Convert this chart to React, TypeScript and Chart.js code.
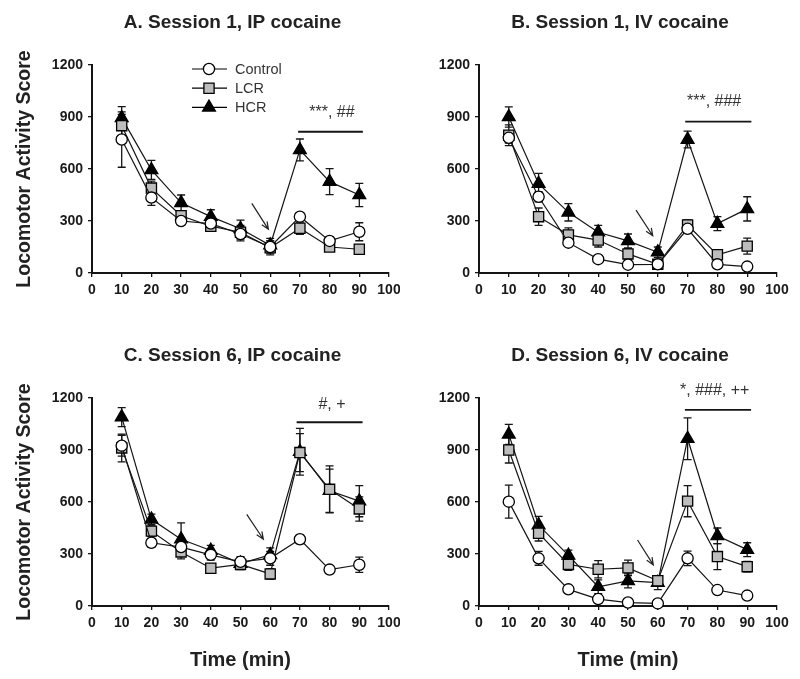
import React, { useEffect, useRef } from 'react';
import { Chart, registerables } from 'chart.js';

Chart.register(...registerables);

const FONT = '"Liberation Sans", Arial, Helvetica, sans-serif';

// ---------- shared axes ----------
const times = [10, 20, 30, 40, 50, 60, 70, 80, 90];
const seriesNames = ['Control', 'LCR', 'HCR'];
const xMin = 0;
const xMax = 100;
const xStep = 10;
const yMin = 0;
const yMax = 1200;
const yStep = 300;
const yAxisTitle = 'Locomotor Activity Score';
const xAxisTitle = 'Time (min)';

// ---------- Panel A ----------
const aTitle = 'A. Session 1, IP cocaine';
const aControl = [770, 435, 300, 285, 225, 150, 325, 185, 238];
const aControlErr = [160, 45, 20, 25, 40, 35, 20, 25, 52];
const aLCR = [850, 490, 330, 270, 235, 145, 258, 150, 137];
const aLCRErr = [65, 40, 25, 30, 40, 40, 35, 25, 20];
const aHCR = [895, 595, 405, 325, 255, 160, 710, 527, 450];
const aHCRErr = [65, 55, 45, 40, 50, 40, 63, 75, 67];
const aSigText = '***, ##';
const aSigLine = [69.4, 91.2, 815];
const aSigLabel = [80.8, 923];
const aArrow = [53.8, 402, 59.4, 252];

// ---------- Panel B ----------
const bTitle = 'B. Session 1, IV cocaine';
const bControl = [780, 440, 175, 80, 48, 50, 255, 50, 37];
const bControlErr = [30, 30, 20, 10, 10, 10, 20, 10, 10];
const bLCR = [795, 325, 220, 190, 110, 50, 277, 105, 155];
const bLCRErr = [60, 50, 40, 40, 30, 15, 30, 20, 46];
const bHCR = [900, 515, 350, 235, 185, 120, 770, 285, 370];
const bHCRErr = [58, 60, 50, 40, 40, 30, 48, 40, 70];
const bSigText = '***, ###';
const bSigLine = [69.2, 91.4, 873];
const bSigLabel = [78.9, 988];
const bArrow = [52.7, 363, 58.3, 215];

// ---------- Panel C ----------
const cTitle = 'C. Session 6, IP cocaine';
const cControl = [925, 365, 340, 295, 255, 275, 385, 210, 238];
const cControlErr = [60, 25, 30, 30, 30, 40, 25, 15, 44];
const cLCR = [912, 432, 312, 218, 240, 185, 885, 673, 560];
const cLCRErr = [80, 30, 40, 20, 30, 30, 110, 135, 70];
const cHCR = [1090, 500, 385, 320, 245, 295, 890, 665, 605];
const cHCRErr = [55, 30, 95, 30, 30, 40, 135, 125, 90];
const cSigText = '#, +';
const cSigLine = [68.9, 91.1, 1060];
const cSigLabel = [80.8, 1160];
const cArrow = [52.1, 529, 57.7, 385];

// ---------- Panel D ----------
const dTitle = 'D. Session 6, IV cocaine';
const dControl = [602, 275, 96, 40, 20, 15, 275, 92, 60];
const dControlErr = [95, 40, 20, 10, 5, 5, 42, 15, 10];
const dLCR = [900, 420, 240, 212, 220, 146, 605, 285, 227];
const dLCRErr = [75, 45, 35, 50, 45, 20, 90, 75, 30];
const dHCR = [990, 467, 292, 111, 145, 135, 965, 405, 325];
const dHCRErr = [58, 50, 30, 40, 40, 40, 120, 45, 40];
const dSigText = '*, ###, ++';
const dSigLine = [69.1, 91.3, 1131];
const dSigLabel = [79.1, 1240];
const dArrow = [53.2, 381, 58.5, 237];

type Panel = {
  title: string;
  values: number[][];
  errs: number[][];
  sigText: string;
  sigLine: number[];
  sigLabel: number[];
  arrow: number[];
  legend: boolean;
  yTitle: boolean;
  xTitle: boolean;
  box: { left: number; top: number; width: number; height: number };
  pad: { left: number; right: number; top: number; bottom: number };
};

const panels: Panel[] = [
  {
    title: aTitle,
    values: [aControl, aLCR, aHCR],
    errs: [aControlErr, aLCRErr, aHCRErr],
    sigText: aSigText, sigLine: aSigLine, sigLabel: aSigLabel, arrow: aArrow,
    legend: true, yTitle: true, xTitle: false,
    box: { left: 0, top: 0, width: 400, height: 320 },
    pad: { left: 40, right: 11, top: 65, bottom: 7 },
  },
  {
    title: bTitle,
    values: [bControl, bLCR, bHCR],
    errs: [bControlErr, bLCRErr, bHCRErr],
    sigText: bSigText, sigLine: bSigLine, sigLabel: bSigLabel, arrow: bArrow,
    legend: false, yTitle: false, xTitle: false,
    box: { left: 400, top: 0, width: 400, height: 320 },
    pad: { left: 27, right: 23, top: 65, bottom: 7 },
  },
  {
    title: cTitle,
    values: [cControl, cLCR, cHCR],
    errs: [cControlErr, cLCRErr, cHCRErr],
    sigText: cSigText, sigLine: cSigLine, sigLabel: cSigLabel, arrow: cArrow,
    legend: false, yTitle: true, xTitle: true,
    box: { left: 0, top: 320, width: 400, height: 359 },
    pad: { left: 40, right: 11, top: 78, bottom: 33 },
  },
  {
    title: dTitle,
    values: [dControl, dLCR, dHCR],
    errs: [dControlErr, dLCRErr, dHCRErr],
    sigText: dSigText, sigLine: dSigLine, sigLabel: dSigLabel, arrow: dArrow,
    legend: false, yTitle: false, xTitle: true,
    box: { left: 400, top: 320, width: 400, height: 359 },
    pad: { left: 27, right: 23, top: 78, bottom: 33 },
  },
];

const INK = '#151515';
const SQUARE_FILL = '#bdbdbd';
const markerKinds = ['circle', 'rect', 'triangle'];
const markerFill = ['#ffffff', SQUARE_FILL, '#000000'];
const markerRadius = [5.6, 7.2, 7.4];

function drawMarker(ctx: CanvasRenderingContext2D, kind: string, x: number, y: number) {
  ctx.save();
  ctx.lineWidth = 1.3;
  ctx.strokeStyle = '#000';
  ctx.beginPath();
  if (kind === 'circle') {
    ctx.fillStyle = '#fff';
    ctx.arc(x, y, 5.6, 0, Math.PI * 2);
  } else if (kind === 'rect') {
    ctx.fillStyle = SQUARE_FILL;
    ctx.rect(x - 5.1, y - 5.1, 10.2, 10.2);
  } else {
    ctx.fillStyle = '#000';
    const r = 7.4;
    ctx.moveTo(x, y - r);
    ctx.lineTo(x + r * 0.866, y + r * 0.5);
    ctx.lineTo(x - r * 0.866, y + r * 0.5);
    ctx.closePath();
  }
  ctx.fill();
  ctx.stroke();
  ctx.restore();
}

function makeDecor(panel: Panel) {
  return {
    id: 'decor',
    beforeDatasetsDraw(chart: any) {
      const ctx: CanvasRenderingContext2D = chart.ctx;
      const ys = chart.scales.y;
      ctx.save();
      ctx.strokeStyle = INK;
      ctx.lineWidth = 1.3;
      panel.values.forEach((vals, i) => {
        const meta = chart.getDatasetMeta(i);
        meta.data.forEach((pt: any, j: number) => {
          const x = pt.x;
          const top = ys.getPixelForValue(vals[j] + panel.errs[i][j]);
          const bot = ys.getPixelForValue(Math.max(0, vals[j] - panel.errs[i][j]));
          ctx.beginPath();
          ctx.moveTo(x, top);
          ctx.lineTo(x, bot);
          ctx.moveTo(x - 4, top);
          ctx.lineTo(x + 4, top);
          ctx.moveTo(x - 4, bot);
          ctx.lineTo(x + 4, bot);
          ctx.stroke();
        });
      });
      ctx.restore();
    },
    afterDraw(chart: any) {
      const ctx: CanvasRenderingContext2D = chart.ctx;
      const a = chart.chartArea;
      const xs = chart.scales.x;
      const ys = chart.scales.y;
      ctx.save();
      ctx.fillStyle = '#222';
      // title
      ctx.font = `bold 19px ${FONT}`;
      ctx.textAlign = 'center';
      ctx.textBaseline = 'middle';
      ctx.fillText(panel.title, (a.left + a.right) / 2 - 8, a.top - 42);
      // y title
      if (panel.yTitle) {
        ctx.save();
        ctx.translate(a.left - 67, (a.top + a.bottom) / 2);
        ctx.rotate(-Math.PI / 2);
        ctx.font = `bold 19.5px ${FONT}`;
        ctx.fillText(yAxisTitle, 0, 0);
        ctx.restore();
      }
      // x title
      if (panel.xTitle) {
        ctx.font = `bold 20px ${FONT}`;
        ctx.fillText(xAxisTitle, (a.left + a.right) / 2, a.bottom + 54);
      }
      // significance line & text
      ctx.strokeStyle = INK;
      ctx.lineWidth = 1.8;
      ctx.beginPath();
      const ly = ys.getPixelForValue(panel.sigLine[2]);
      ctx.moveTo(xs.getPixelForValue(panel.sigLine[0]), ly);
      ctx.lineTo(xs.getPixelForValue(panel.sigLine[1]), ly);
      ctx.stroke();
      ctx.font = `16px ${FONT}`;
      ctx.fillStyle = '#333';
      ctx.fillText(panel.sigText, xs.getPixelForValue(panel.sigLabel[0]), ys.getPixelForValue(panel.sigLabel[1]));
      // arrow
      const x1 = xs.getPixelForValue(panel.arrow[0]);
      const y1 = ys.getPixelForValue(panel.arrow[1]);
      const x2 = xs.getPixelForValue(panel.arrow[2]);
      const y2 = ys.getPixelForValue(panel.arrow[3]);
      const ang = Math.atan2(y2 - y1, x2 - x1);
      ctx.lineWidth = 1.2;
      ctx.strokeStyle = '#222';
      ctx.beginPath();
      ctx.moveTo(x1, y1);
      ctx.lineTo(x2, y2);
      const h = 8;
      ctx.moveTo(x2 - h * Math.cos(ang - 0.4), y2 - h * Math.sin(ang - 0.4));
      ctx.lineTo(x2, y2);
      ctx.lineTo(x2 - h * Math.cos(ang + 0.4), y2 - h * Math.sin(ang + 0.4));
      ctx.stroke();
      // legend
      if (panel.legend) {
        seriesNames.forEach((name, i) => {
          const y = a.top + 4 + i * 19.2;
          ctx.strokeStyle = '#000';
          ctx.lineWidth = 1.2;
          ctx.beginPath();
          ctx.moveTo(a.left + 100, y);
          ctx.lineTo(a.left + 135, y);
          ctx.stroke();
          drawMarker(ctx, markerKinds[i], a.left + 117, y);
          ctx.font = `14.5px ${FONT}`;
          ctx.fillStyle = '#333';
          ctx.textAlign = 'left';
          ctx.fillText(name, a.left + 143, y + 1);
        });
      }
      ctx.restore();
    },
  };
}

function PanelChart({ panel }: { panel: Panel }) {
  const ref = useRef<HTMLCanvasElement | null>(null);
  useEffect(() => {
    if (!ref.current) return;
    const tickFont = { family: FONT, size: 14, weight: 'bold' as const };
    const chart = new Chart(ref.current, {
      type: 'line',
      data: {
        datasets: panel.values.map((vals, i) => ({
          label: seriesNames[i],
          data: times.map((t, j) => ({ x: t, y: vals[j] })),
          borderColor: INK,
          borderWidth: 1.2,
          pointStyle: markerKinds[i] as any,
          pointRadius: markerRadius[i],
          pointBackgroundColor: markerFill[i],
          pointBorderColor: '#000',
          pointBorderWidth: 1.3,
          tension: 0,
          clip: false as any,
        })),
      },
      options: {
        responsive: false,
        animation: false,
        events: [],
        layout: { padding: panel.pad },
        plugins: {
          legend: { display: false },
          tooltip: { enabled: false },
          title: { display: false },
        },
        scales: {
          x: {
            type: 'linear',
            min: xMin,
            max: xMax,
            ticks: { stepSize: xStep, font: tickFont, color: '#1a1a1a', padding: 5, maxRotation: 0, autoSkip: false, callback: (v: any) => String(v) },
            grid: { display: true, drawOnChartArea: false, drawTicks: true, tickLength: 4, color: INK, lineWidth: 1.3 },
            border: { display: true, color: INK, width: 2 },
            afterFit: (s: any) => {
              s.height = 40;
              s.paddingLeft = 0;
              s.paddingRight = 0;
            },
          },
          y: {
            type: 'linear',
            min: yMin,
            max: yMax,
            ticks: { stepSize: yStep, font: tickFont, color: '#1a1a1a', padding: 5, callback: (v: any) => String(v) },
            grid: { display: true, drawOnChartArea: false, drawTicks: true, tickLength: 4, color: INK, lineWidth: 1.3 },
            border: { display: true, color: INK, width: 2 },
            afterFit: (s: any) => {
              s.width = 52;
              s.paddingTop = 0;
              s.paddingBottom = 0;
            },
          },
        },
      },
      plugins: [makeDecor(panel)],
    });
    return () => chart.destroy();
  }, [panel]);
  return (
    <canvas
      ref={ref}
      width={panel.box.width}
      height={panel.box.height}
      style={{ position: 'absolute', left: panel.box.left, top: panel.box.top, width: panel.box.width, height: panel.box.height }}
    />
  );
}

export default function App() {
  return (
    <div style={{ position: 'absolute', left: 0, top: 0, width: 800, height: 679, background: '#fff', overflow: 'hidden' }}>
      {panels.map((p, i) => (
        <PanelChart key={i} panel={p} />
      ))}
    </div>
  );
}
